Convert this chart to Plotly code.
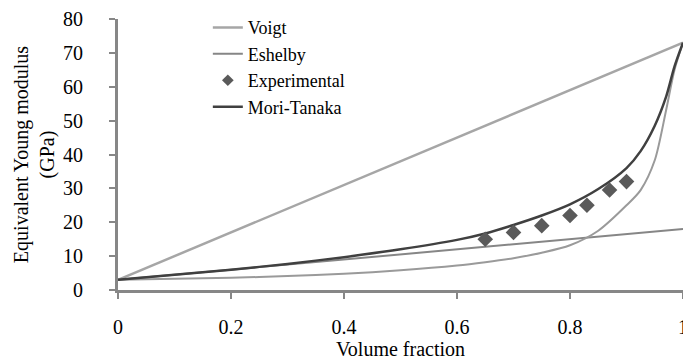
import plotly.graph_objects as go

# Volume fraction grid and modulus values (GPa)
frac = [0, 0.1, 0.2, 0.3, 0.4, 0.5, 0.6, 0.65, 0.7, 0.75, 0.8, 0.85, 0.9, 0.925, 0.95, 0.97, 0.985, 1.0]
mori_tanaka = [3, 4.5, 6.0, 7.7, 9.7, 12.0, 14.8, 16.7, 19.2, 22.0, 25.3, 29.8, 36.0, 41.0, 48.5, 57.0, 66.0, 73.0]
lower_curve = [3, 3.3, 3.6, 4.1, 4.8, 5.8, 7.2, 8.2, 9.4, 11.0, 13.2, 17.5, 25.0, 29.5, 38.3, 53.0, 65.0, 73.0]

voigt_frac = [0, 1]
voigt = [3, 73]

eshelby_frac = [0, 1]
eshelby = [3, 18]

exp_frac = [0.65, 0.7, 0.75, 0.8, 0.83, 0.87, 0.9]
experimental = [15, 17, 19, 22, 25, 29.5, 32]

FONT = "Liberation Serif"

fig = go.Figure()

fig.add_trace(go.Scatter(x=voigt_frac, y=voigt, mode="lines", name="Voigt",
                         line=dict(color="#a6a6a6", width=2.5), legendrank=1))
fig.add_trace(go.Scatter(x=eshelby_frac, y=eshelby, mode="lines", name="Eshelby",
                         line=dict(color="#868686", width=2), legendrank=2))
fig.add_trace(go.Scatter(x=frac, y=lower_curve, mode="lines", showlegend=False,
                         line=dict(color="#9a9a9a", width=2, shape="spline", smoothing=0.8)))
fig.add_trace(go.Scatter(x=frac, y=mori_tanaka, mode="lines", name="Mori-Tanaka",
                         line=dict(color="#404040", width=2.5, shape="spline", smoothing=0.8),
                         legendrank=4))
fig.add_trace(go.Scatter(x=exp_frac, y=experimental, mode="markers", showlegend=False,
                         marker=dict(symbol="diamond", size=12, color="#5a5a5a")))
# legend entry for the measured points (smaller glyph)
fig.add_trace(go.Scatter(x=[None], y=[None], mode="markers", name="Experimental",
                         marker=dict(symbol="diamond", size=9, color="#5a5a5a"), legendrank=3))

axis_common = dict(
    showgrid=False, zeroline=False, showline=True, linecolor="#878787", linewidth=3,
    ticks="outside", ticklen=6, tickwidth=2, tickcolor="#878787",
    tickfont=dict(family=FONT, size=20, color="#000000"), automargin=False,
)

fig.update_xaxes(range=[0, 1], tickvals=[0, 0.2, 0.4, 0.6, 0.8, 1],
                 ticktext=["0", "0.2", "0.4", "0.6", "0.8", "1"],
                 ticklabelstandoff=11, ticklabeloverflow="allow",
                 title=dict(text="Volume fraction", font=dict(family=FONT, size=20, color="#000"),
                            standoff=15),
                 **axis_common)
fig.update_yaxes(range=[0, 80], dtick=10, ticklabelstandoff=22,
                 title=dict(text="Equivalent Young modulus<br>(GPa)",
                            font=dict(family=FONT, size=20, color="#000"), standoff=4),
                 **axis_common)

fig.update_layout(
    width=683, height=360,
    margin=dict(l=118, r=0, t=19, b=70),
    plot_bgcolor="white", paper_bgcolor="white",
    font=dict(family=FONT, size=20, color="#000"),
    legend=dict(x=0.159, y=1.036, xanchor="left", yanchor="top", bgcolor="rgba(0,0,0,0)",
                font=dict(family=FONT, size=18, color="#000"), tracegroupgap=0, itemwidth=30),
)

fig.write_html("out.html")
